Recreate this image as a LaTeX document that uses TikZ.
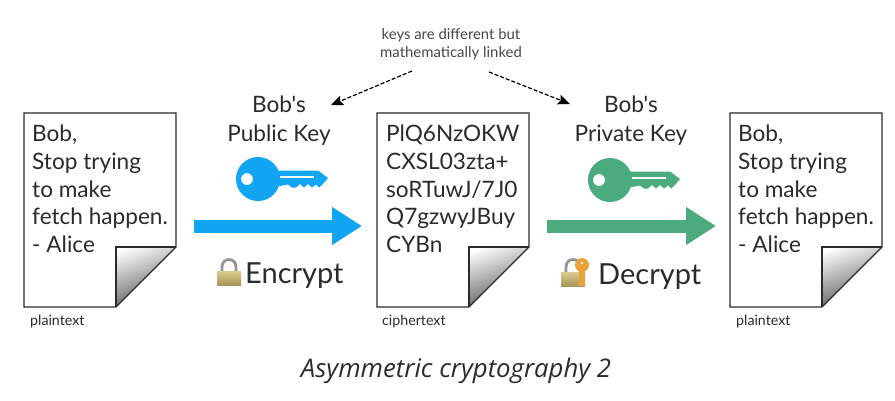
\documentclass[tikz,border=0pt]{standalone}
\usepackage{fontspec}
\setmainfont{Lato}
\newfontfamily\capfont{Open Sans}
\newfontfamily\straightfont{Lato}
\usetikzlibrary{arrows.meta}
\definecolor{inkc}{HTML}{2B2B2B}
\definecolor{bluec}{HTML}{12A5F4}
\definecolor{greenc}{HTML}{4CAB7E}
\definecolor{brassA}{HTML}{D9CC8C}
\definecolor{brassB}{HTML}{A5975A}
\definecolor{keyorange}{HTML}{E9A33A}
\tikzset{
  x=1pt,y=-1pt,
  pagebox/.style={minimum width=152pt,minimum height=194pt,inner sep=0pt,outer sep=0pt},
  pageedge/.style={draw=inkc,line width=1.3pt,line join=miter},
  doctext/.style={anchor=north west,inner sep=0pt,align=left,text=inkc,font=\fontsize{22.6}{27.6}\selectfont},
  smalllabel/.style={anchor=base west,inner sep=0pt,text=inkc,font=\fontsize{14.2}{16}\selectfont},
  keylabel/.style={anchor=north,inner sep=0pt,align=center,text=inkc,font=\straightfont\fontsize{22.6}{29}\selectfont},
  actionlabel/.style={anchor=base west,inner sep=0pt,text=inkc,font=\fontsize{29}{32}\selectfont},
  notelabel/.style={anchor=north,inner sep=0pt,align=center,text=black!72,font=\fontsize{14.9}{18}\selectfont},
  captionlabel/.style={anchor=base,inner sep=0pt,text=inkc,font=\capfont\itshape\fontsize{25.7}{28}\selectfont},
  flow/.style={line width=13pt,-{Triangle[length=30pt,width=36pt]}},
  linkarrow/.style={black,line width=1.2pt,dash pattern=on 4pt off 2pt,-{Stealth[length=12pt,width=10pt,inset=2pt]}},
  shackle/.style={draw=black!42,line width=2.8pt}
}
\newcommand{\docsheet}[2]{%
  \begin{scope}[xshift=#2pt]
    \node[pagebox] (#1) at (100,210) {};
    \begin{scope}
      \clip (116,307) -- (116,247) -- (176,247) -- cycle;
      \shade[top color=white,bottom color=black!72,shading angle=20] (112,243) rectangle (180,311);
    \end{scope}
    \draw[pageedge] (24,113) -- (176,113) -- (176,247) -- (116,307) -- (24,307) -- cycle;
    \draw[pageedge] (116,307) -- (116,247) -- (176,247);
  \end{scope}}
\newcommand{\keyglyph}[3]{%
  \begin{scope}[shift={(#1,#2)}]
    \fill[#3,even odd rule] (0,0) circle[radius=22] (-11,0) circle[radius=6];
    \fill[#3] (14,-8.5) -- (60,-8.5) -- (70,-1) -- (64,6) -- (61,8.5) -- (58,5.5) -- (54,8.5) -- (50,5) -- (46,8.5) -- (42,5) -- (38,8.5) -- (34,8.5) -- (30,5.5) -- (14,8.5) -- cycle;
    \fill[white] (22,-3) rectangle (56,-1);
  \end{scope}}
\begin{document}
\begin{tikzpicture}
\useasboundingbox (0,0) rectangle (895,400);
\fill[white] (0,0) rectangle (895,400);

\docsheet{plainA}{0}
\docsheet{cipher}{353}
\docsheet{plainB}{706}

\node[doctext] (plainAtext) at (32,125) {Bob,\\Stop trying\\to make\\fetch happen.\\- Alice};
\node[doctext] (ciphertext) at (386,125) {PlQ6NzOKW\\CXSL03zta+\\soRTuwJ/7J0\\Q7gzwyJBuy\\CYBn};
\node[doctext] (plainBtext) at (738,125) {Bob,\\Stop trying\\to make\\fetch happen.\\- Alice};

\node[smalllabel] (plainAlabel) at (30,325) {plaintext};
\node[smalllabel] (cipherlabel) at (382,325) {ciphertext};
\node[smalllabel] (plainBlabel) at (736,325) {plaintext};

\node[notelabel] (note) at (451,28) {keys are different but\\mathematically linked};
\node[keylabel] (pubkey) at (279,96) {Bob's\\Public Key};
\node[keylabel] (privkey) at (631,96) {Bob's\\Private Key};

\keyglyph{258}{179}{bluec}
\keyglyph{610}{180}{greenc}

\coordinate (encFrom) at (194,226);
\coordinate (encTo) at (362,226);
\coordinate (decFrom) at (547,226);
\coordinate (decTo) at (716,226);
\draw[flow,bluec] (encFrom) -- (encTo);
\draw[flow,greenc] (decFrom) -- (decTo);

% closed padlock
\draw[shackle] (222,272) -- (222,267) .. controls (222,257) and (236,257) .. (236,267) -- (236,272);
\shade[top color=brassA,bottom color=brassB] (217,271) rectangle (241,285);
% open padlock with key
\draw[shackle] (566,273) -- (566,267) .. controls (566,257) and (580,257) .. (580,267) -- (580,270);
\shade[top color=brassA,bottom color=brassB] (561,272) rectangle (585,286);
\fill[keyorange] (582,265) circle[radius=7];
\fill[keyorange] (579,268) rectangle (585,286);
\fill[white] (582,263) circle[radius=1.4];

\node[actionlabel] (encrypt) at (245,283) {Encrypt};
\node[actionlabel] (decrypt) at (598,284) {Decrypt};

\coordinate (linkL) at (412,71);
\coordinate (linkLend) at (331,105);
\coordinate (linkR) at (489,72);
\coordinate (linkRend) at (570,104);
\draw[linkarrow] (linkL) -- (linkLend);
\draw[linkarrow] (linkR) -- (linkRend);

\node[captionlabel] (caption) at (456,377) {Asymmetric cryptography 2};
\end{tikzpicture}
\end{document}
